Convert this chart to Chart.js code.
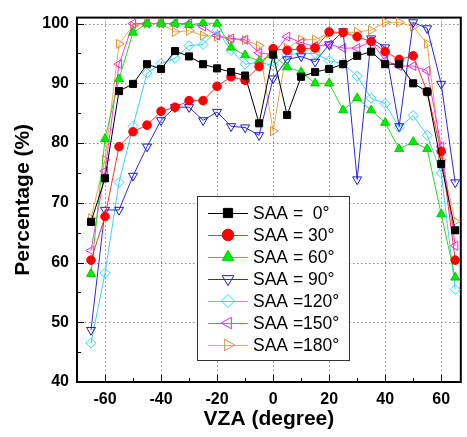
<!DOCTYPE html>
<html>
<head>
<meta charset="utf-8">
<script src="https://cdn.jsdelivr.net/npm/chart.js@4/dist/chart.umd.min.js"></script>
<style>
  html, body { margin: 0; padding: 0; background: #fff; }
  #wrap { width: 467px; height: 437px; position: relative; }
</style>
</head>
<body>
<div id="wrap"><canvas id="vzaChart"></canvas></div>
<script>
// view zenith angles (x)
const vza = [-65, -60, -55, -50, -45, -40, -35, -30, -25, -20, -15, -10, -5, 0,
             5, 10, 15, 20, 25, 30, 35, 40, 45, 50, 55, 60, 65];

// percentage for each solar azimuth angle
const saa0   = [66.8, 74.1, 88.7, 89.9, 93.2, 92.4, 95.4, 94.5, 93.2, 92.5, 91.9, 91.3, 83.3, 94.8,
                84.7, 91.1, 91.9, 92.4, 93.2, 94.6, 95.3, 93.2, 93.2, 90.0, 88.6, 76.5, 65.4];
const saa30  = [60.4, 67.7, 79.4, 81.9, 83.0, 85.3, 86.0, 87.1, 87.1, 89.5, 91.1, 90.5, 92.8, 95.8,
                95.5, 95.8, 95.9, 98.6, 98.5, 97.8, 97.0, 95.3, 94.0, 94.6, 88.6, 78.6, 60.4];
const saa60  = [58.1, 80.7, 90.7, 98.5, 100, 100, 100, 99.8, 100.1, 100, 96.0, 94.7, 93.7, 94.8,
                92.7, 91.9, 90.0, 90.0, 85.5, 87.5, 85.5, 83.4, 79.0, 80.2, 79.0, 68.1, 57.5];
const saa90  = [48.7, 68.8, 68.8, 74.5, 79.4, 83.8, 86.0, 86.0, 83.8, 85.2, 82.8, 82.6, 81.3, 90.8,
                94.0, 94.5, 93.6, 96.5, 98.7, 73.9, 97.5, 96.0, 82.8, 100.2, 99.2, 89.9, 73.4];
const saa120 = [46.5, 58.2, 73.4, 82.8, 91.7, 93.3, 94.2, 96.3, 96.5, 98.9, 95.5, 93.2, 93.5, 93.0,
                94.8, 95.0, 95.0, 93.8, 93.3, 91.2, 87.5, 86.6, 82.6, 84.6, 81.3, 75.0, 55.5];
const saa150 = [62.0, 75.3, 93.2, 100, 100, 100, 100, 100, 99.5, 98.0, 97.5, 97.3, 95.1, 94.8,
                97.8, 96.8, 96.2, 96.5, 95.9, 95.9, 97.0, 93.8, 92.9, 92.9, 92.1, 79.4, 62.8];
const saa180 = [67.4, 77.2, 96.6, 99.6, 100, 100, 98.6, 98.8, 98.0, 97.8, 97.4, 97.2, 96.3, 82.0,
                95.9, 97.3, 97.3, 98.4, 98.4, 98.6, 98.9, 100.2, 100.2, 99.5, 96.6, 77.2, 66.9];

const seriesLabels = ['SAA =  0\u00b0', 'SAA = 30\u00b0', 'SAA = 60\u00b0', 'SAA = 90\u00b0',
                      'SAA =120\u00b0', 'SAA =150\u00b0', 'SAA =180\u00b0'];

const FONT = "'Liberation Sans', Arial, sans-serif";

function series(label, values, line, fill, stroke, style, rot, radius) {
    return {
        label: label,
        data: vza.map((x, i) => ({ x: x, y: values[i] })),
        borderColor: line,
        borderWidth: 1,
        pointStyle: style,
        rotation: rot,
        pointRadius: radius,
        pointBackgroundColor: fill,
        pointBorderColor: stroke,
        pointBorderWidth: 1,
        tension: 0,
        clip: false
    };
}

// dotted grid, inward ticks, frame and the boxed legend
const decor = {
    id: 'decor',
    beforeDatasetsDraw(chart) {
        const { ctx, chartArea: a, scales: { x, y } } = chart;
        ctx.save();
        // grid
        ctx.strokeStyle = '#8a8a8a';
        ctx.lineWidth = 1;
        ctx.setLineDash([1.5, 2.5]);
        ctx.beginPath();
        x.ticks.forEach(t => {
            const px = Math.round(x.getPixelForValue(t.value)) + 0.5;
            ctx.moveTo(px, a.top);
            ctx.lineTo(px, a.bottom);
        });
        y.ticks.forEach(t => {
            const py = Math.round(y.getPixelForValue(t.value)) + 0.5;
            ctx.moveTo(a.left, py);
            ctx.lineTo(a.right, py);
        });
        ctx.stroke();
        ctx.setLineDash([]);
        // ticks
        ctx.strokeStyle = '#000';
        ctx.beginPath();
        for (let v = -60; v <= 60; v += 10) {
            const px = Math.round(x.getPixelForValue(v)) + 0.5;
            const len = v % 20 === 0 ? 7 : 4;
            ctx.moveTo(px, a.bottom);
            ctx.lineTo(px, a.bottom - len);
        }
        for (let v = 45; v <= 100; v += 5) {
            const py = Math.round(y.getPixelForValue(v)) + 0.5;
            const len = v % 10 === 0 ? 7 : 4;
            ctx.moveTo(a.left, py);
            ctx.lineTo(a.left + len, py);
        }
        ctx.stroke();
        ctx.lineWidth = 2;
        ctx.strokeRect(a.left, a.top, a.right - a.left, a.bottom - a.top);
        ctx.restore();
    },
    afterDraw(chart) {
        const { ctx } = chart;
        const bx = 197.5, by = 196.5, bw = 152, bh = 164;
        ctx.save();
        ctx.fillStyle = '#fff';
        ctx.fillRect(bx, by, bw, bh);
        ctx.strokeStyle = '#333';
        ctx.lineWidth = 1;
        ctx.strokeRect(bx, by, bw, bh);
        ctx.font = '17.5px ' + FONT;
        ctx.textBaseline = 'middle';
        chart.data.datasets.forEach((ds, i) => {
            const cy = 213 + i * 22;
            ctx.strokeStyle = ds.borderColor;
            ctx.lineWidth = 1;
            ctx.beginPath();
            ctx.moveTo(208, cy + 0.5);
            ctx.lineTo(248, cy + 0.5);
            ctx.stroke();
            ctx.fillStyle = ds.pointBackgroundColor;
            ctx.strokeStyle = ds.pointBorderColor;
            Chart.helpers.drawPoint(ctx, {
                pointStyle: ds.pointStyle, rotation: ds.rotation,
                radius: ds.pointRadius + 1.5, borderWidth: 1
            }, 228, cy);
            ctx.fillStyle = '#000';
            ctx.fillText(ds.label, 253, cy + 1);
        });
        ctx.restore();
    }
};

new Chart(document.getElementById('vzaChart'), {
    type: 'line',
    data: {
        datasets: [
            series(seriesLabels[0], saa0,   '#000000', '#000000', '#000000', 'rect', 0, 5),
            series(seriesLabels[1], saa30,  '#ff3030', '#ff0000', '#ff0000', 'circle', 0, 4.3),
            series(seriesLabels[2], saa60,  '#22dd22', '#00ee00', '#00cc00', 'triangle', 0, 5.2),
            series(seriesLabels[3], saa90,  '#2a2ae0', 'rgba(0,0,0,0)', '#1a1ad8', 'triangle', 180, 5.2),
            series(seriesLabels[4], saa120, '#44ccff', 'rgba(0,0,0,0)', '#22ddff', 'rectRot', 0, 5),
            series(seriesLabels[5], saa150, '#ff33ff', 'rgba(0,0,0,0)', '#ee22ee', 'triangle', 270, 5.2),
            series(seriesLabels[6], saa180, '#e8a84c', 'rgba(0,0,0,0)', '#e09030', 'triangle', 90, 5.2)
        ]
    },
    options: {
        responsive: true,
        maintainAspectRatio: false,
        animation: false,
        layout: { padding: { top: 7, right: 1, left: 0, bottom: 0 } },
        plugins: {
            legend: { display: false },
            tooltip: { enabled: false }
        },
        scales: {
            x: {
                type: 'linear',
                min: -70,
                max: 67,
                afterFit: s => { s.height = 55; },
                ticks: {
                    stepSize: 20,
                    includeBounds: false,
                    padding: 8,
                    color: '#000',
                    font: { family: FONT, size: 16, weight: 'bold' }
                },
                grid: { display: false, drawTicks: false },
                border: { display: false },
                title: {
                    display: true,
                    text: 'VZA (degree)',
                    color: '#000',
                    font: { family: FONT, size: 21, weight: 'bold' },
                    padding: { top: 0, bottom: 5 }
                }
            },
            y: {
                type: 'linear',
                min: 40,
                max: 101,
                afterFit: s => { s.width = 77; },
                ticks: {
                    stepSize: 10,
                    includeBounds: false,
                    padding: 8,
                    color: '#000',
                    font: { family: FONT, size: 16, weight: 'bold' }
                },
                grid: { display: false, drawTicks: false },
                border: { display: false },
                title: {
                    display: true,
                    text: 'Percentage (%)',
                    color: '#000',
                    font: { family: FONT, size: 21, weight: 'bold' },
                    padding: { top: 11, bottom: 0 }
                }
            }
        }
    },
    plugins: [decor]
});
</script>
</body>
</html>
